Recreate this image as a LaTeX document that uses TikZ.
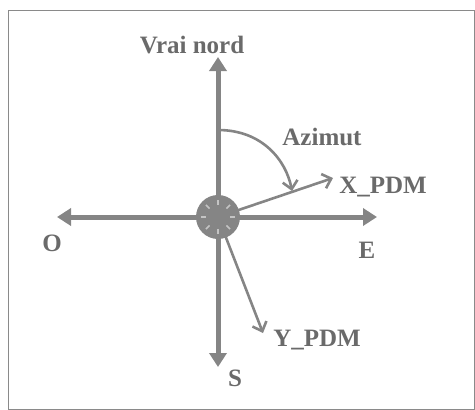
\documentclass[tikz,border=0pt]{standalone}
\usepackage{fontspec}
\setmainfont{Liberation Serif}
\usetikzlibrary{arrows.meta}
\definecolor{axisgray}{HTML}{858585}
\definecolor{labelgray}{HTML}{6A6A6A}
\definecolor{framegray}{HTML}{8A8A8A}
\definecolor{tickgray}{HTML}{C4C4C4}

\begin{document}
\begin{tikzpicture}[
    x=1pt, y=-1pt,
    line width=0.6pt,
    every node/.style={font=\rmfamily\bfseries\fontsize{25}{29}\selectfont,
      text=labelgray, inner sep=0pt},
    axis/.style={draw=axisgray, line width=5pt,
      -{Triangle[length=14pt, width=17pt]}},
    pdm/.style={draw=axisgray, line width=2.6pt,
      -{Straight Barb[length=8pt, width=15pt, line width=2.6pt]}},
  ]

  % ---------- Frame ---------------------------------------------------------
  \useasboundingbox (0,0) rectangle (475,410);
  \draw[draw=framegray, line width=1pt] (8,10) rectangle (474,409);

  % ---------- Axes (true north frame) ---------------------------------------
  \coordinate (c) at (218,217);
  \coordinate (n) at (218,57);
  \coordinate (s) at (218,367);
  \coordinate (w) at (57,217);
  \coordinate (e) at (377,217);
  \draw[axis] (c) -- (n);
  \draw[axis] (c) -- (s);
  \draw[axis] (c) -- (w);
  \draw[axis] (c) -- (e);

  % ---------- PDM frame -----------------------------------------------------
  \coordinate (xpdm) at (333,178);
  \coordinate (ypdm) at (263,333);
  \draw[pdm] (c) -- (xpdm);
  \draw[pdm] (c) -- (ypdm);

  % ---------- Centre target -------------------------------------------------
  \node[circle, draw=axisgray, fill=axisgray, line width=2pt,
    minimum size=42pt] (ctr) at (c) {};
  \foreach \a in {0,45,...,315}
    \draw[draw=tickgray, line width=1.6pt, shift={(c)}] (\a:12) -- (\a:17);

  % ---------- Azimuth arc ---------------------------------------------------
  \coordinate (azs) at (218,130);
  \coordinate (aze) at (292,191);
  \draw[pdm] (azs) .. controls (262,130) and (286,160) .. (aze);

  % ---------- Labels --------------------------------------------------------
  \node (nord) at (192,45) {Vrai nord};
  \node (azimut) at (322,137) {Azimut};
  \node[anchor=west] (xlab) at (339,187) {X\_PDM};
  \node[anchor=west] (ylab) at (273,340) {Y\_PDM};
  \node (olab) at (52,243) {O};
  \node (elab) at (367,250) {E};
  \node (slab) at (235,378) {S};

\end{tikzpicture}
\end{document}
